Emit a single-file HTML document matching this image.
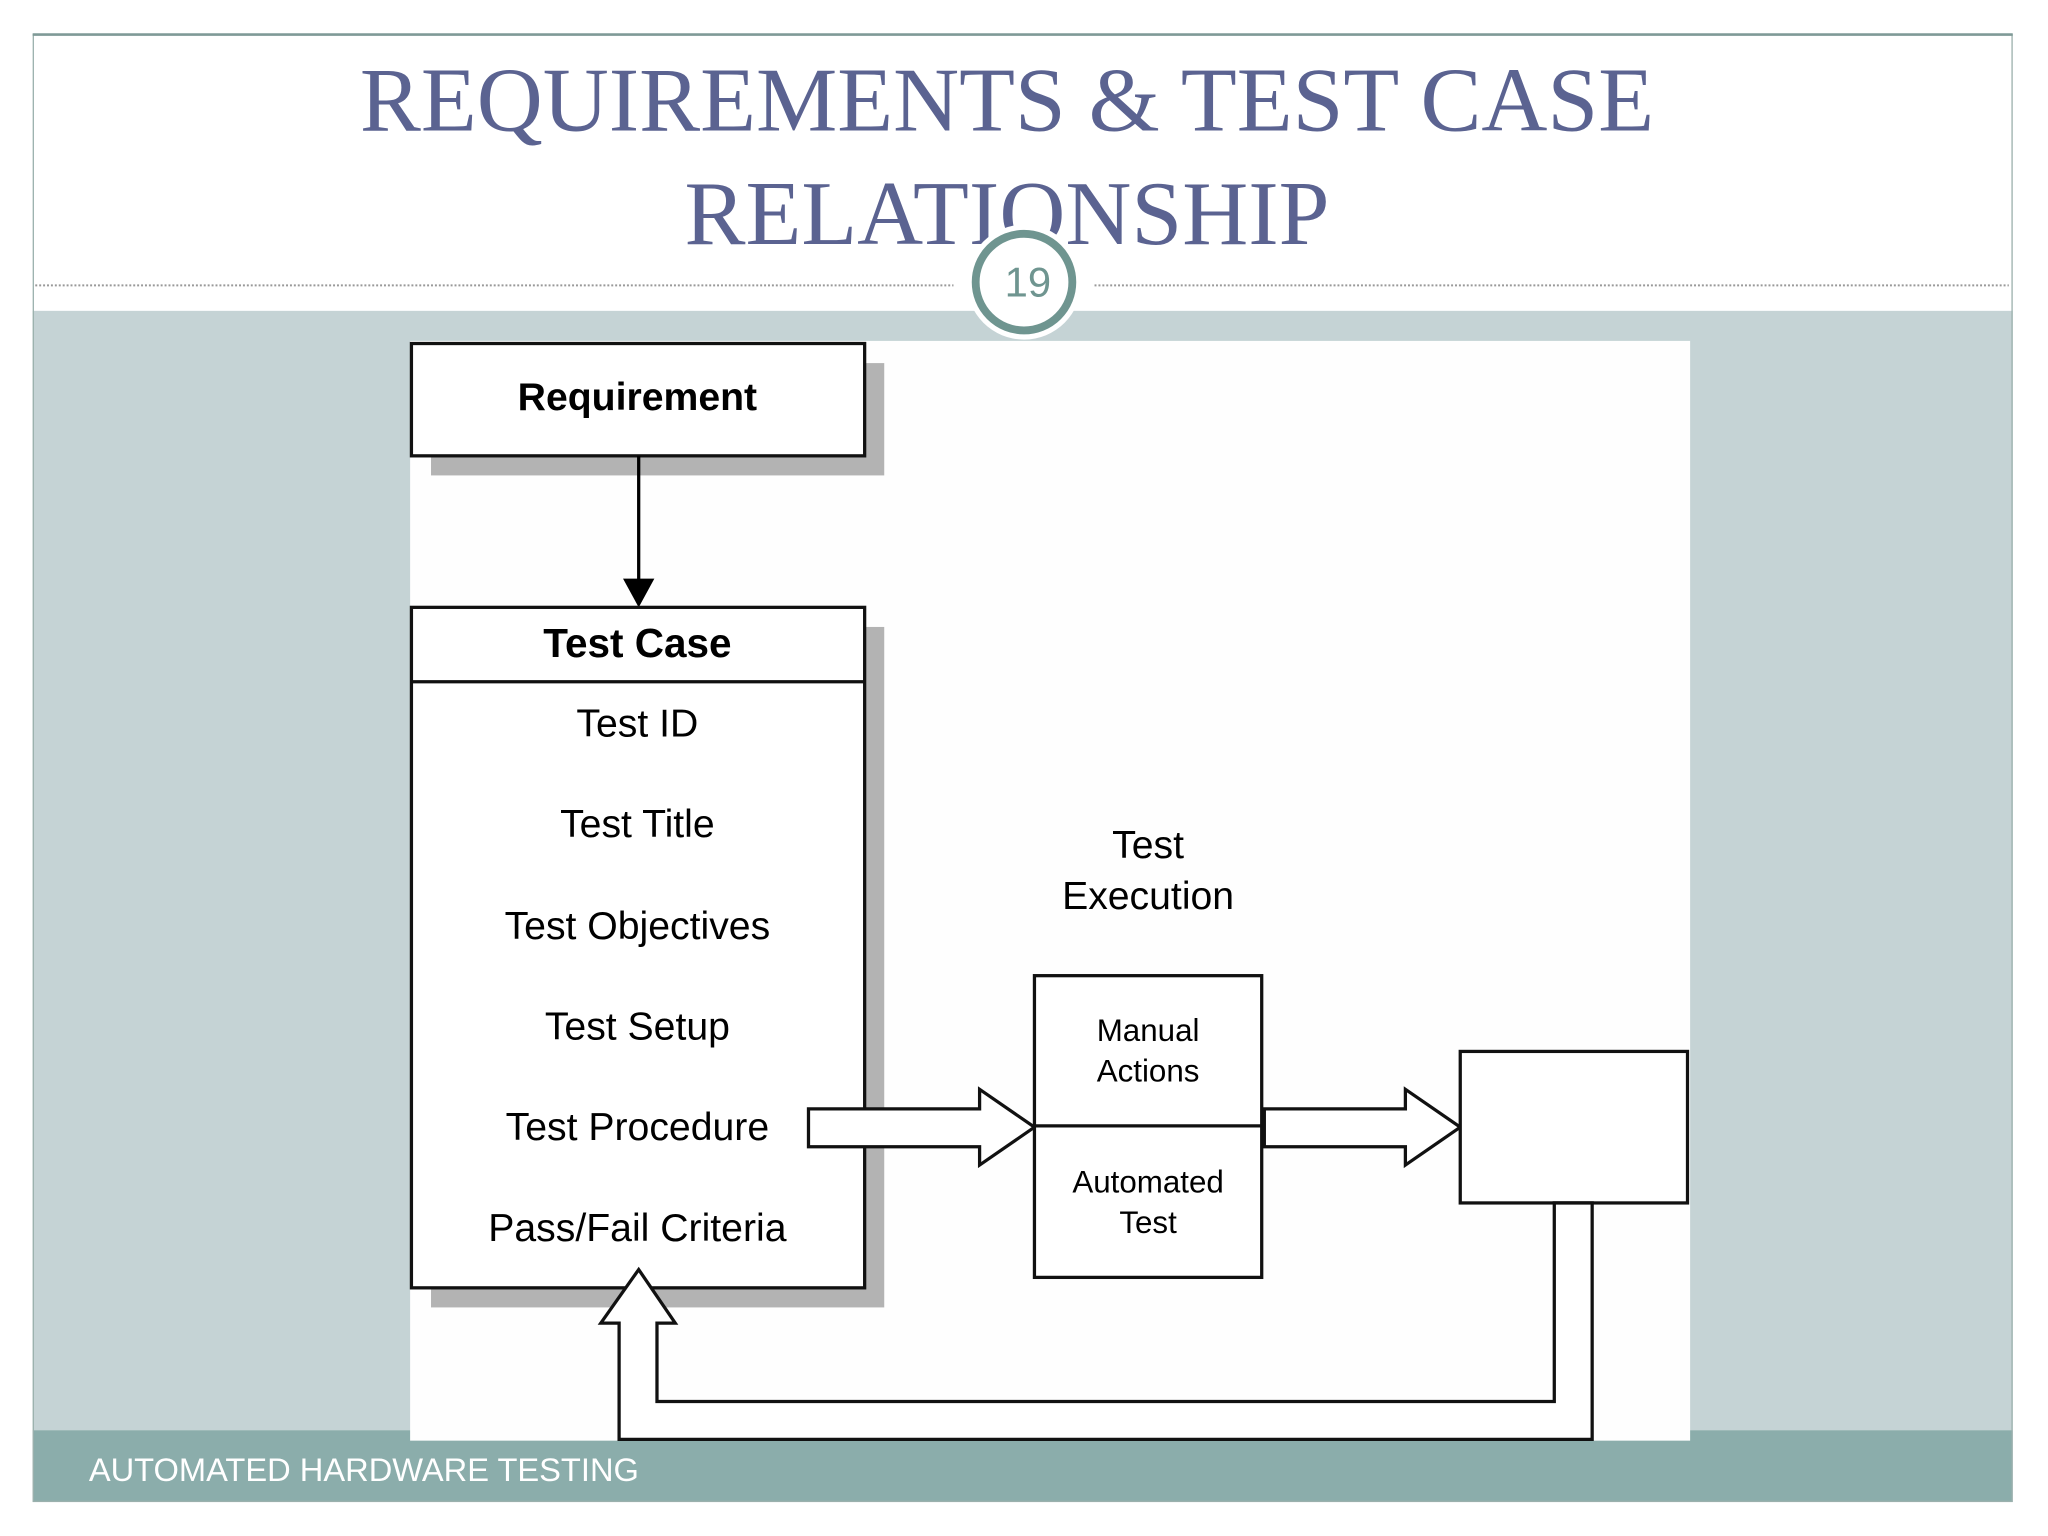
<!DOCTYPE html>
<html><head><meta charset="utf-8"><style>
html,body{margin:0;padding:0;background:#fff;}
svg{display:block;}
text{font-family:"Liberation Sans",Arial,sans-serif;}
</style></head><body>
<svg width="2048" height="1536" viewBox="0 0 1568 1176" xmlns="http://www.w3.org/2000/svg">
<rect x="0" y="0" width="1568" height="1176" fill="#fff"/>
<!-- slide frame -->
<rect x="25" y="238" width="1516" height="857" fill="#c5d3d5"/>
<rect x="25" y="1095" width="1516" height="55" fill="#8badab"/>
<rect x="25.5" y="26.5" width="1515" height="1123" fill="none" stroke="#9bb0ad" stroke-width="1"/>
<line x1="25" y1="26.5" x2="1541" y2="26.5" stroke="#7f9a97" stroke-width="2"/>
<!-- title -->
<text x="771" y="100" text-anchor="middle" font-family="Liberation Serif, serif" font-size="70" fill="#5b6391" style="font-family:'Liberation Serif',serif">REQUIREMENTS &amp; TEST CASE</text>
<text x="771" y="187" text-anchor="middle" font-size="70" fill="#5b6391" style="font-family:'Liberation Serif',serif">RELATIONSHIP</text>
<line x1="27" y1="218.5" x2="730" y2="218.5" stroke="#999" stroke-width="1.5" stroke-dasharray="1.5 1.5"/>
<line x1="838" y1="218.5" x2="1538" y2="218.5" stroke="#999" stroke-width="1.5" stroke-dasharray="1.5 1.5"/>
<!-- diagram background -->
<rect x="314" y="261" width="980" height="842" fill="#fefefe"/>
<!-- page number circle -->
<circle cx="784" cy="216" r="44" fill="#fff"/>
<circle cx="784" cy="216" r="37" fill="#fff" stroke="#6f9590" stroke-width="6"/>
<text x="787" y="227" text-anchor="middle" font-size="32" fill="#6f9590">19</text>
<!-- footer text -->
<text x="68" y="1134" font-size="25" fill="#fff">AUTOMATED HARDWARE TESTING</text>
<!-- Requirement box -->
<rect x="330" y="278" width="347" height="86" fill="#b3b3b3"/>
<rect x="315" y="263" width="347" height="86" fill="#fff" stroke="#111" stroke-width="2.5"/>
<text x="488" y="314" text-anchor="middle" font-size="30" font-weight="bold" fill="#000">Requirement</text>
<line x1="489" y1="349" x2="489" y2="445" stroke="#000" stroke-width="2.5"/>
<polygon points="477,443 501,443 489,465" fill="#000"/>
<!-- Test Case box -->
<rect x="330" y="480" width="347" height="521" fill="#b3b3b3"/>
<rect x="315" y="465" width="347" height="521" fill="#fff" stroke="#111" stroke-width="2.5"/>
<line x1="315" y1="522" x2="662" y2="522" stroke="#111" stroke-width="2.5"/>
<text x="488" y="503" text-anchor="middle" font-size="31" font-weight="bold">Test Case</text>
<g font-size="30" text-anchor="middle" fill="#000">
<text x="488" y="564">Test ID</text>
<text x="488" y="641">Test Title</text>
<text x="488" y="719">Test Objectives</text>
<text x="488" y="796">Test Setup</text>
<text x="488" y="873">Test Procedure</text>
<text x="488" y="950">Pass/Fail Criteria</text>
</g>
<!-- block arrow 1 -->
<polygon points="619,849 750,849 750,834 792,863 750,892 750,878 619,878" fill="#fff" stroke="#111" stroke-width="2.5"/>
<!-- middle box -->
<rect x="792" y="747" width="174" height="231" fill="#fff" stroke="#111" stroke-width="2.5"/>
<line x1="792" y1="862" x2="966" y2="862" stroke="#111" stroke-width="2.5"/>
<g font-size="24" text-anchor="middle" fill="#000">
<text x="879" y="797">Manual</text>
<text x="879" y="828">Actions</text>
<text x="879" y="913">Automated</text>
<text x="879" y="944">Test</text>
<text x="1205" y="870">Test Data</text>
</g>
<text x="879" y="657" text-anchor="middle" font-size="30">Test</text>
<text x="879" y="696" text-anchor="middle" font-size="30">Execution</text>
<!-- block arrow 2 -->
<polygon points="968,849 1076,849 1076,834 1118,863 1076,892 1076,878 968,878" fill="#fff" stroke="#111" stroke-width="2.5"/>
<!-- Test Data box -->
<rect x="1118" y="805" width="174" height="116" fill="#fff" stroke="#111" stroke-width="2.5"/>
<!-- return arrow -->
<polygon points="1219,921 1219,1102 474,1102 474,1013 460,1013 489,972 517,1013 503,1013 503,1073 1190,1073 1190,921" fill="#fff" stroke="#111" stroke-width="2.5"/>
</svg>
</body></html>
